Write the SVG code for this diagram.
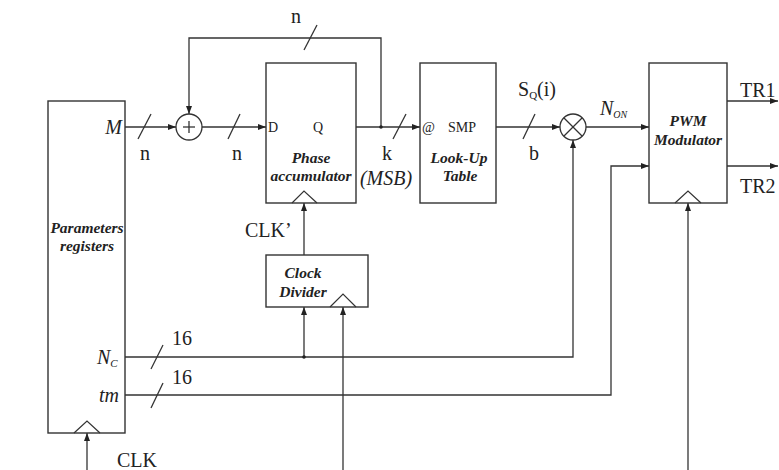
<svg xmlns="http://www.w3.org/2000/svg" width="779" height="470" viewBox="0 0 779 470">
<style>
.box{fill:#fff;stroke:#333;stroke-width:1.4}
.ln{fill:none;stroke:#333;stroke-width:1.3}
.clk{fill:none;stroke:#333;stroke-width:1.2}
.t{font-family:"Liberation Serif",serif;fill:#222}
.big{font-size:20px}
.bi{font-weight:bold;font-style:italic;font-size:15.5px}
.it{font-style:italic}
.sm{font-size:14px}
.mid{text-anchor:middle}
.end{text-anchor:end}
</style>
<defs>
<marker id="ah" viewBox="0 0 8 6" refX="8" refY="3" markerWidth="8" markerHeight="6" markerUnits="userSpaceOnUse" orient="auto">
<path d="M0,0 L8,3 L0,6 z" fill="#222"/>
</marker>
</defs>
<rect width="779" height="470" fill="#fff"/>

<g id="connectors">
<line class="ln" x1="125" y1="127" x2="176" y2="127" marker-end="url(#ah)"/>
<line class="ln" x1="138" y1="139" x2="151" y2="114"/>
<line class="ln" x1="202" y1="127" x2="266" y2="127" marker-end="url(#ah)"/>
<line class="ln" x1="228" y1="139" x2="240" y2="114"/>
<polyline class="ln" points="381,127 381,38 189,38 189,114" marker-end="url(#ah)"/>
<line class="ln" x1="304" y1="50" x2="317" y2="25"/>
<line class="ln" x1="343" y1="127" x2="420" y2="127" marker-end="url(#ah)"/>
<circle cx="381" cy="127" r="1.8" fill="#222"/>
<line class="ln" x1="393" y1="139" x2="406" y2="114"/>
<line class="ln" x1="496" y1="127" x2="560" y2="127" marker-end="url(#ah)"/>
<line class="ln" x1="523" y1="139" x2="535" y2="114"/>
<line class="ln" x1="586" y1="127" x2="649" y2="127" marker-end="url(#ah)"/>
<line class="ln" x1="727" y1="101" x2="778" y2="101" marker-end="url(#ah)"/>
<line class="ln" x1="727" y1="166" x2="778" y2="166" marker-end="url(#ah)"/>
<polyline class="ln" points="125,357 573,357 573,140" marker-end="url(#ah)"/>
<line class="ln" x1="151" y1="369" x2="163" y2="345"/>
<line class="ln" x1="304" y1="357" x2="304" y2="307" marker-end="url(#ah)"/>
<circle cx="304" cy="357" r="1.8" fill="#222"/>
<polyline class="ln" points="125,395 611,395 611,166 649,166" marker-end="url(#ah)"/>
<line class="ln" x1="151" y1="408" x2="163" y2="383"/>
<line class="ln" x1="304" y1="255" x2="304" y2="203" marker-end="url(#ah)"/>
<line class="ln" x1="343" y1="470" x2="343" y2="307" marker-end="url(#ah)"/>
<line class="ln" x1="688" y1="470" x2="688" y2="203" marker-end="url(#ah)"/>
<line class="ln" x1="87" y1="470" x2="87" y2="433" marker-end="url(#ah)"/>
</g>

<g id="params">
<rect class="box" x="48" y="101" width="77" height="332"/>
<polyline class="clk" points="74,433 87,421 100,433"/>
<text class="t bi mid" x="87" y="233" font-size="16.5">Parameters</text>
<text class="t bi mid" x="87" y="251" font-size="16.5">registers</text>
<text class="t big it end" x="122" y="134">M</text>
<text class="t big it" x="97" y="364">N<tspan font-size="11" dy="3">C</tspan></text>
<text class="t big it end" x="119" y="402">tm</text>
</g>

<g id="adder">
<circle class="ln" cx="189" cy="127" r="13" fill="#fff"/>
<line class="ln" x1="183" y1="127" x2="195" y2="127"/>
<line class="ln" x1="189" y1="121" x2="189" y2="133"/>
</g>

<g id="phase">
<rect class="box" x="266" y="63" width="90" height="140"/>
<polyline class="clk" points="292,203 304,191 317,203"/>
<text class="t sm" x="268" y="132">D</text>
<text class="t sm mid" x="318" y="132">Q</text>
<text class="t bi mid" x="311" y="163">Phase</text>
<text class="t bi mid" x="311" y="181">accumulator</text>
</g>

<g id="lut">
<rect class="box" x="420" y="63" width="76" height="140"/>
<text class="t sm" x="422" y="132">@</text>
<text class="t sm mid" x="462" y="132">SMP</text>
<text class="t bi mid" x="459" y="163">Look-Up</text>
<text class="t bi mid" x="460" y="181">Table</text>
</g>

<g id="multiplier">
<circle class="ln" cx="573" cy="127" r="13" fill="#fff"/>
<line class="ln" x1="564" y1="118" x2="582" y2="136"/>
<line class="ln" x1="582" y1="118" x2="564" y2="136"/>
</g>

<g id="pwm">
<rect class="box" x="649" y="63" width="78" height="140"/>
<polyline class="clk" points="675,203 688,191 701,203"/>
<text class="t bi mid" x="688" y="126">PWM</text>
<text class="t bi mid" x="688" y="145">Modulator</text>
</g>

<g id="clockdiv">
<rect class="box" x="266" y="255" width="102" height="52"/>
<polyline class="clk" points="330,307 343,294 356,307"/>
<text class="t bi mid" x="303" y="278">Clock</text>
<text class="t bi mid" x="303" y="297">Divider</text>
</g>

<g id="labels">
<text class="t big mid" x="145" y="160">n</text>
<text class="t big mid" x="237" y="160">n</text>
<text class="t big mid" x="296" y="23">n</text>
<text class="t big mid" x="387" y="160">k</text>
<text class="t big it mid" x="386" y="185">(MSB)</text>
<text class="t big" x="518" y="96">S<tspan font-size="11" dy="3">Q</tspan><tspan dy="-3">(i)</tspan></text>
<text class="t big mid" x="534" y="160">b</text>
<text class="t big it" x="600" y="115">N<tspan font-size="10" dy="3">ON</tspan></text>
<text class="t big" x="740" y="97">TR1</text>
<text class="t big" x="740" y="193">TR2</text>
<text class="t big" x="172" y="345">16</text>
<text class="t big" x="172" y="384">16</text>
<text class="t big" x="245" y="237">CLK’</text>
<text class="t big" x="117" y="467">CLK</text>
</g>
</svg>
